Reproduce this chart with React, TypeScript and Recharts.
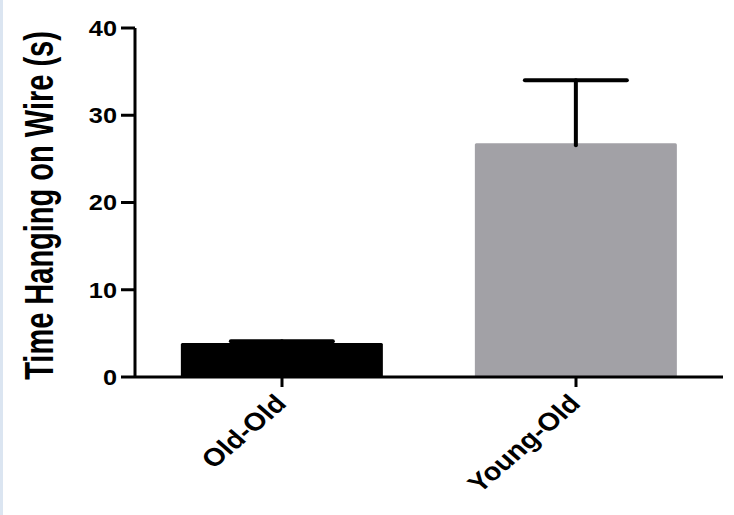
import { BarChart, Bar, XAxis, YAxis, Cell } from 'recharts';

const groups = ['Old-Old', 'Young-Old'];
const meanTime = [3.9, 26.8];
const semTime = [0.2, 7.2];
const barColors = ['#000000', '#a2a1a6'];
const yTicks = [0, 10, 20, 30, 40];

const data = groups.map((group, i) => ({
  group,
  mean: meanTime[i],
  sem: semTime[i],
}));

const FONT = '"Liberation Sans", Arial, sans-serif';
// the original figure is a bit stretched horizontally
const STRETCH = 1.15;

// bar plus an upward-only error bar (no lower cap)
const BarWithError = (props: any) => {
  const { x, y, width, height, fill, payload } = props;
  const pxPerUnit = height / payload.mean;
  const cx = x + width / 2;
  const capY = y - payload.sem * pxPerUnit;
  return (
    <g>
      <rect x={x} y={y} width={width} height={height} fill={fill} rx={1.5} />
      <line x1={cx} y1={y + 2} x2={cx} y2={capY} stroke="#000" strokeWidth={4} strokeLinecap="round" />
      <line x1={cx - 51} y1={capY} x2={cx + 51} y2={capY} stroke="#000" strokeWidth={4} strokeLinecap="round" />
    </g>
  );
};

const YTick = ({ x, y, payload }: any) => (
  <text
    transform={`translate(${x},${y}) scale(${STRETCH},1)`}
    textAnchor="end"
    dy="0.36em"
    fontFamily={FONT}
    fontWeight="bold"
    fontSize={22}
    fill="#000"
  >
    {payload.value}
  </text>
);

const XTick = ({ x, y, payload }: any) => (
  <text
    transform={`translate(${x + 6},${y + 16}) scale(${STRETCH},1) rotate(-45)`}
    textAnchor="end"
    fontFamily={FONT}
    fontWeight="bold"
    fontSize={25}
    fill="#000"
  >
    {payload.value}
  </text>
);

const YLabel = ({ viewBox }: any) => {
  const cx = viewBox.x + 38;
  const cy = viewBox.y + viewBox.height / 2 + 3;
  return (
    <text
      transform={`translate(${cx},${cy}) scale(1.4,1) rotate(-90)`}
      textAnchor="middle"
      dy="0.36em"
      fontFamily={FONT}
      fontWeight="bold"
      fontSize={29}
      fill="#000"
    >
      Time Hanging on Wire (s)
    </text>
  );
};

export default function App() {
  return (
    <div style={{ position: 'absolute', left: 0, top: 0, width: 734, height: 515, background: '#fff' }}>
      <div style={{ position: 'absolute', left: 0, top: 0, width: 3, height: 515, background: '#dbe5f1' }} />
      <BarChart
        width={734}
        height={515}
        data={data}
        margin={{ top: 28, right: 11, bottom: 0, left: 0 }}
        barCategoryGap="15.6%"
      >
        <XAxis
          dataKey="group"
          axisLine={{ stroke: '#000', strokeWidth: 3 }}
          tickLine={{ stroke: '#000', strokeWidth: 3 }}
          tickSize={10}
          tick={<XTick />}
          interval={0}
          height={138}
        />
        <YAxis
          domain={[0, 40]}
          ticks={yTicks}
          width={135}
          axisLine={{ stroke: '#000', strokeWidth: 3 }}
          tickLine={{ stroke: '#000', strokeWidth: 3 }}
          tickSize={14}
          tickMargin={4}
          tick={<YTick />}
          label={<YLabel />}
        />
        <Bar dataKey="mean" shape={<BarWithError />} isAnimationActive={false}>
          {data.map((d, i) => (
            <Cell key={d.group} fill={barColors[i]} />
          ))}
        </Bar>
      </BarChart>
    </div>
  );
}
